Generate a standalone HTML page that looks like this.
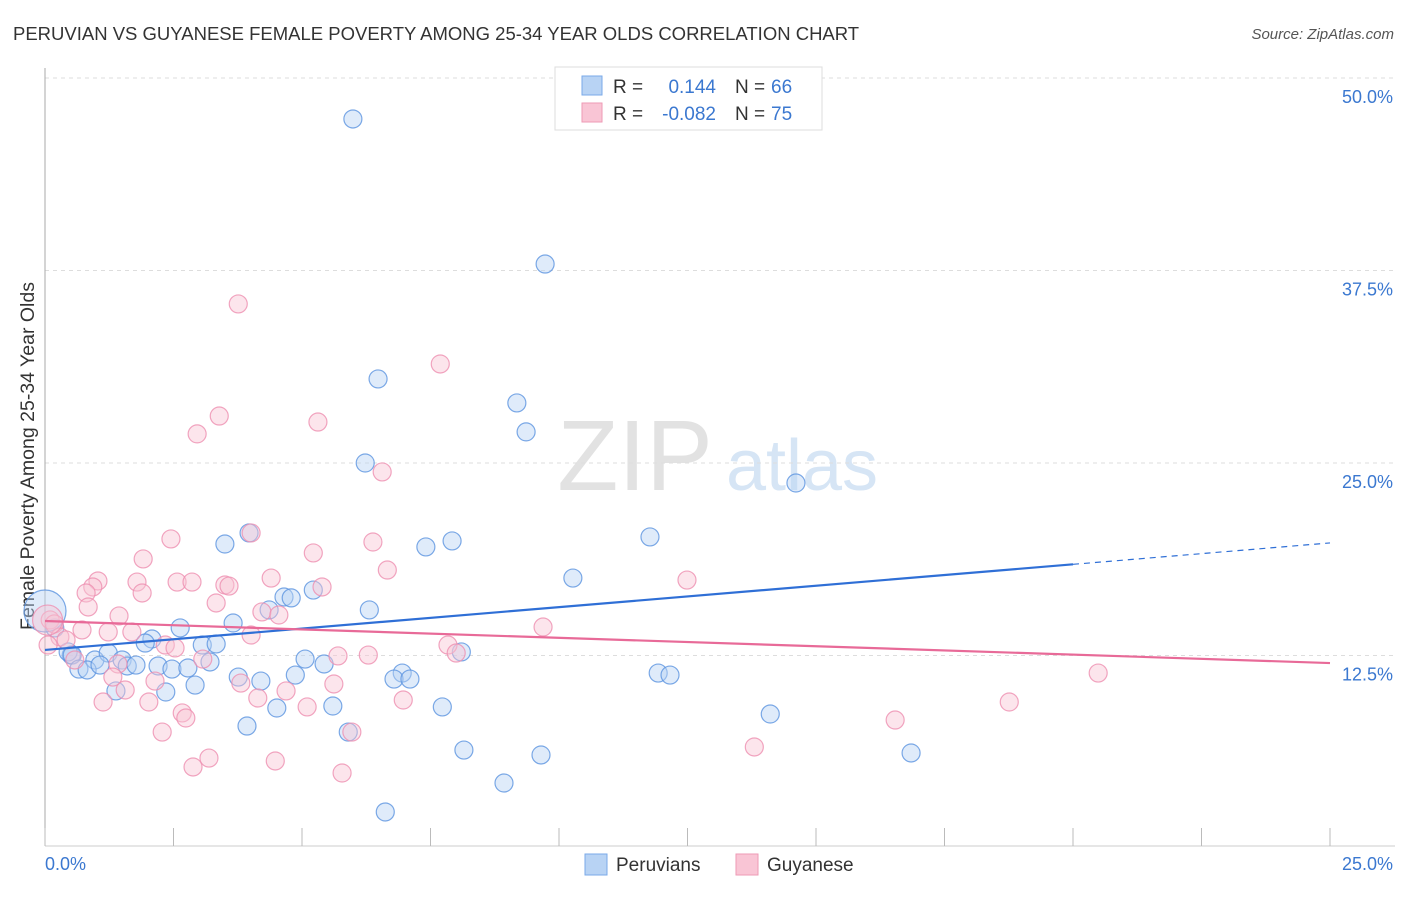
<!DOCTYPE html>
<html><head><meta charset="utf-8"><style>
body{margin:0;background:#fff;font-family:"Liberation Sans",sans-serif;}
svg text{font-family:"Liberation Sans",sans-serif;}
</style></head><body>
<svg id="chart" width="1406" height="892" xmlns="http://www.w3.org/2000/svg">
<text x="13" y="40" font-size="18.5" fill="#333">PERUVIAN VS GUYANESE FEMALE POVERTY AMONG 25-34 YEAR OLDS CORRELATION CHART</text>
<text x="1394" y="39" font-size="15" fill="#555" font-style="italic" text-anchor="end">Source: ZipAtlas.com</text>
<text transform="translate(34,456) rotate(-90)" font-size="19.5" fill="#333" text-anchor="middle">Female Poverty Among 25-34 Year Olds</text>
<g>
<text x="635" y="490" font-size="100" fill="#e2e2e2" text-anchor="middle" font-family="Liberation Serif,serif">ZIP</text>
<text x="802" y="490" font-size="72" fill="#d6e5f5" text-anchor="middle">atlas</text>
</g>
<g id="grid"></g>
<g id="axes"></g>
<g id="marks"></g>
<g id="lines"></g>
<g>
<rect x="555" y="67" width="267" height="63" fill="#fff" stroke="#ddd"/>
<rect x="582" y="76" width="20" height="19" fill="#b8d3f4" stroke="#7aaae8"/>
<rect x="582" y="103" width="20" height="19" fill="#f9c5d5" stroke="#ee9ab5"/>
<text x="613" y="93" font-size="19" fill="#333">R =</text>
<text x="716" y="93" font-size="19" fill="#3b78d0" text-anchor="end">0.144</text>
<text x="735" y="93" font-size="19" fill="#333">N =</text>
<text x="771" y="93" font-size="19" fill="#3b78d0">66</text>
<text x="613" y="120" font-size="19" fill="#333">R =</text>
<text x="716" y="120" font-size="19" fill="#3b78d0" text-anchor="end">-0.082</text>
<text x="735" y="120" font-size="19" fill="#333">N =</text>
<text x="771" y="120" font-size="19" fill="#3b78d0">75</text>
</g>
<g>
<rect x="585" y="854" width="22" height="21" fill="#b8d3f4" stroke="#7aaae8"/>
<text x="616" y="871" font-size="19" fill="#333">Peruvians</text>
<rect x="736" y="854" width="22" height="21" fill="#f9c5d5" stroke="#ee9ab5"/>
<text x="767" y="871" font-size="19" fill="#333">Guyanese</text>
</g>
</svg>
<script>
const yTicks=[12.5,25,37.5,50];
const yTickLabels=["12.5%","25.0%","37.5%","50.0%"];
const xTickLabels=["0.0%","25.0%"];
const peruX=[5.99,9.73,6.48,9.18,9.36,6.23,14.61,11.77,7.92,7.41,3.50,3.97,10.27,5.22,4.65,4.79,4.36,6.31,2.63,3.66,2.08,1.95,3.06,3.33,0.19,0.51,0.45,0.53,0.97,1.23,1.50,1.60,1.77,0.66,0.82,1.07,2.20,2.47,2.78,3.21,5.06,5.43,8.10,11.93,12.16,6.95,6.79,7.10,3.76,4.20,4.87,2.92,1.38,2.35,4.51,5.60,7.73,14.11,3.93,5.90,8.15,9.65,16.85,8.93,6.62,0];
const peruY=[47.34,37.92,30.46,28.90,27.02,25.00,23.70,20.20,19.94,19.55,19.74,20.46,17.53,16.75,16.30,16.24,15.46,15.46,14.29,14.61,13.57,13.31,13.18,13.25,14.29,12.53,12.73,12.53,12.21,12.66,12.21,11.82,11.88,11.62,11.56,11.88,11.82,11.62,11.69,12.08,12.27,11.95,12.73,11.36,11.23,11.36,10.97,10.97,11.10,10.84,11.23,10.58,10.20,10.13,9.09,9.22,9.16,8.70,7.92,7.53,6.36,6.04,6.17,4.22,2.34,15.39];
const guyX=[3.76,7.69,3.39,5.31,2.96,6.56,4.01,2.45,6.38,5.22,1.91,6.66,4.40,1.03,1.79,2.57,2.86,3.50,3.58,5.39,12.49,0.93,0.80,1.89,0.84,3.33,1.44,4.22,4.55,0.10,0.18,0.72,1.23,1.69,4.01,9.69,0.29,0.41,0.06,2.34,2.53,7.84,8.0,5.70,6.29,0.58,3.07,1.42,20.49,1.32,2.14,5.62,3.81,1.56,4.69,4.14,2.02,1.13,6.97,18.76,5.10,2.67,2.74,16.54,2.28,5.97,13.80,3.19,4.48,2.88,5.78,0.05];
const guyY=[35.33,31.43,28.05,27.66,26.89,24.42,20.46,20.07,19.87,19.16,18.77,18.05,17.53,17.34,17.27,17.27,17.27,17.08,17.01,16.95,17.40,16.95,16.56,16.56,15.65,15.91,15.07,15.33,15.13,14.81,14.55,14.16,14.03,14.03,13.83,14.35,13.70,13.51,13.18,13.18,12.99,13.18,12.66,12.47,12.53,12.21,12.27,11.95,11.36,11.10,10.84,10.65,10.71,10.26,10.20,9.74,9.48,9.48,9.61,9.48,9.16,8.77,8.44,8.31,7.53,7.53,6.56,5.84,5.65,5.26,4.87,14.8];
const peruTrend=[12.86,19.81];
const guyTrend=[14.74,12.01];
const NS="http://www.w3.org/2000/svg";
const X=v=>45+v/25*1285;
const Y=v=>848-v/12.5*192.5;
function mk(tag,attrs,parent){const e=document.createElementNS(NS,tag);for(const k in attrs)e.setAttribute(k,attrs[k]);document.getElementById(parent).appendChild(e);return e;}
yTicks.forEach((t,i)=>{
 const l=mk('line',{x1:45,x2:1395,y1:Y(t),y2:Y(t),stroke:'#ddd','stroke-dasharray':'4,4'},'grid');
 
 
 const tx=mk('text',{x:1393,y:Y(t)+25,'font-size':18,fill:'#3b78d0','text-anchor':'end'},'axes');
 tx.textContent=yTickLabels[i];
 
 
});
const ax=mk('line',{x1:45,x2:45,y1:68,y2:846,stroke:'#aaa'},'axes');


const bx=mk('line',{x1:45,x2:1395,y1:846,y2:846,stroke:'#ccc'},'axes');


for(let i=0;i<=10;i++){
 const t=mk('line',{x1:X(i*2.5),x2:X(i*2.5),y1:828,y2:846,stroke:'#bbb'},'axes');
 
 
}
[[0,45,'start'],[25,1393,'end']].forEach((a,i)=>{
 const t=mk('text',{x:a[1],y:870,'font-size':18,fill:'#3b78d0','text-anchor':a[2]},'axes');
 t.textContent=xTickLabels[i];
 
 
});
function pts(xs,ys,fill,stroke,name,bigIdx,bigR){
 xs.forEach((x,i)=>{
  const c=mk('circle',{cx:X(x),cy:Y(ys[i]),r:i===bigIdx?bigR:9,fill:fill,'fill-opacity':0.45,stroke:stroke,'stroke-width':1.2,'stroke-opacity':0.8},'marks');
  
  
 });
}
pts(peruX,peruY,'#b8d3f4','#5b93e0','peruvian-point',peruX.length-1,21);
pts(guyX,guyY,'#f9c5d5','#ee8fb0','guyanese-point',guyX.length-1,15);
const ySolidEnd=peruTrend[0]+(peruTrend[1]-peruTrend[0])*0.8;
const l1=mk('line',{x1:X(0),y1:Y(peruTrend[0]),x2:X(20),y2:Y(ySolidEnd),stroke:'#2f6fd6','stroke-width':2.2},'lines');


const l2=mk('line',{x1:X(20),y1:Y(ySolidEnd),x2:X(25),y2:Y(peruTrend[1]),stroke:'#2f6fd6','stroke-width':1.2,'stroke-dasharray':'6,5'},'lines');


const l3=mk('line',{x1:X(0),y1:Y(guyTrend[0]),x2:X(25),y2:Y(guyTrend[1]),stroke:'#e86a98','stroke-width':2.2},'lines');


</script>
</body></html>
